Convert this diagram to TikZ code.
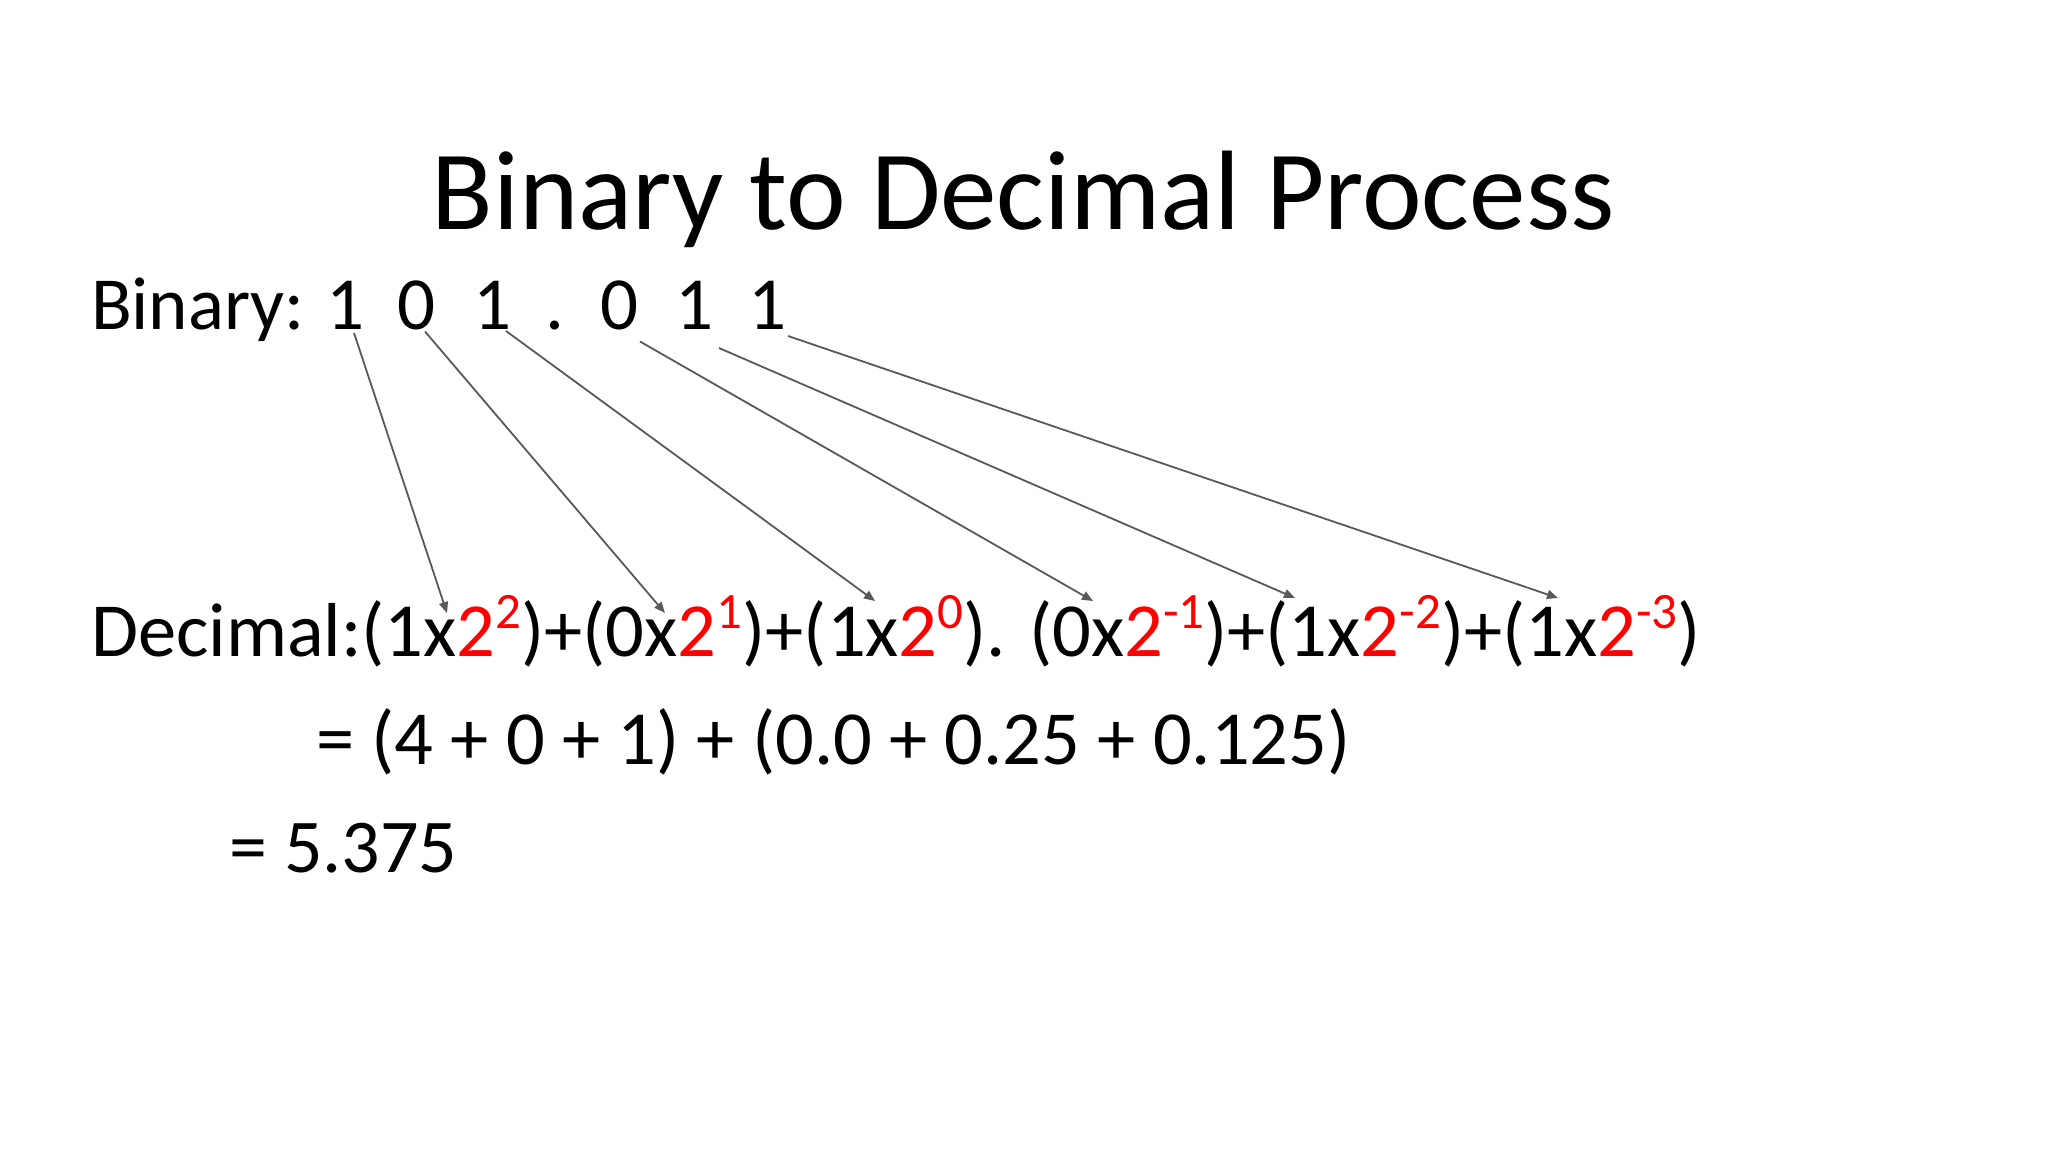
\documentclass[tikz,border=0pt]{standalone}
\usepackage{fontspec}
\setmainfont{Carlito}
\usetikzlibrary{arrows.meta}
\definecolor{redt}{RGB}{255,0,0}
\definecolor{arrc}{RGB}{89,89,89}
\newcommand{\pw}[1]{\textcolor{redt}{2\raisebox{0.36em}{\fontsize{51}{51}\selectfont #1}}}
\begin{document}
\begin{tikzpicture}[x=1pt,y=-1pt,
  txt/.style={inner sep=0pt, outer sep=0pt, anchor=base west, font=\fontsize{75}{90}\selectfont},
  bigtxt/.style={txt, font=\fontsize{76.5}{92}\selectfont},
  dig/.style={inner sep=0pt, outer sep=0pt, anchor=base, font=\fontsize{75}{90}\selectfont},
  arr/.style={draw=arrc, line width=1.8pt, -{Triangle[length=11pt,width=9pt]}}]
\fill[white] (0,0) rectangle (2048,1152);
\useasboundingbox (0,0) rectangle (2048,1152);
\node[inner sep=0pt, anchor=base, font=\fontsize{113}{130}\selectfont] (title) at (1023,229) {Binary to Decimal Process};
\node[txt] (binlbl) at (91,329) {Binary:};
\node[dig] (b1) at (346,329) {1};
\node[dig] (b2) at (417,329) {0};
\node[dig] (b3) at (493,329) {1};
\node[dig] (bp) at (555,329) {.};
\node[dig] (b4) at (619,329) {0};
\node[dig] (b5) at (694,329) {1};
\node[dig] (b6) at (767,329) {1};
\node[bigtxt] (dec) at (91,656) {Decimal:(1x\pw{2})+(0x\pw{1})+(1x\pw{0}). (0x\pw{-1})+(1x\pw{-2})+(1x\pw{-3})};
\node[bigtxt] (sum) at (316,764) {= (4 + 0 + 1) + (0.0 + 0.25 + 0.125)};
\node[txt, font=\fontsize{76}{90}\selectfont] (res) at (229,872) {= 5.375};
\coordinate (e1) at (447,613);
\coordinate (e2) at (665,613);
\coordinate (e3) at (875,601);
\coordinate (e4) at (1093,601);
\coordinate (e5) at (1295,598);
\coordinate (e6) at (1558,598);
\draw[arr] ([shift={(8,4)}]b1.south) -- (e1);
\draw[arr] ([shift={(8,2)}]b2.south) -- (e2);
\draw[arr] ([shift={(13,2)}]b3.south) -- (e3);
\draw[arr] ([shift={(21,12)}]b4.south) -- (e4);
\draw[arr] ([shift={(25,19)}]b5.south) -- (e5);
\draw[arr] ([shift={(21,7)}]b6.south) -- (e6);
\end{tikzpicture}
\end{document}
